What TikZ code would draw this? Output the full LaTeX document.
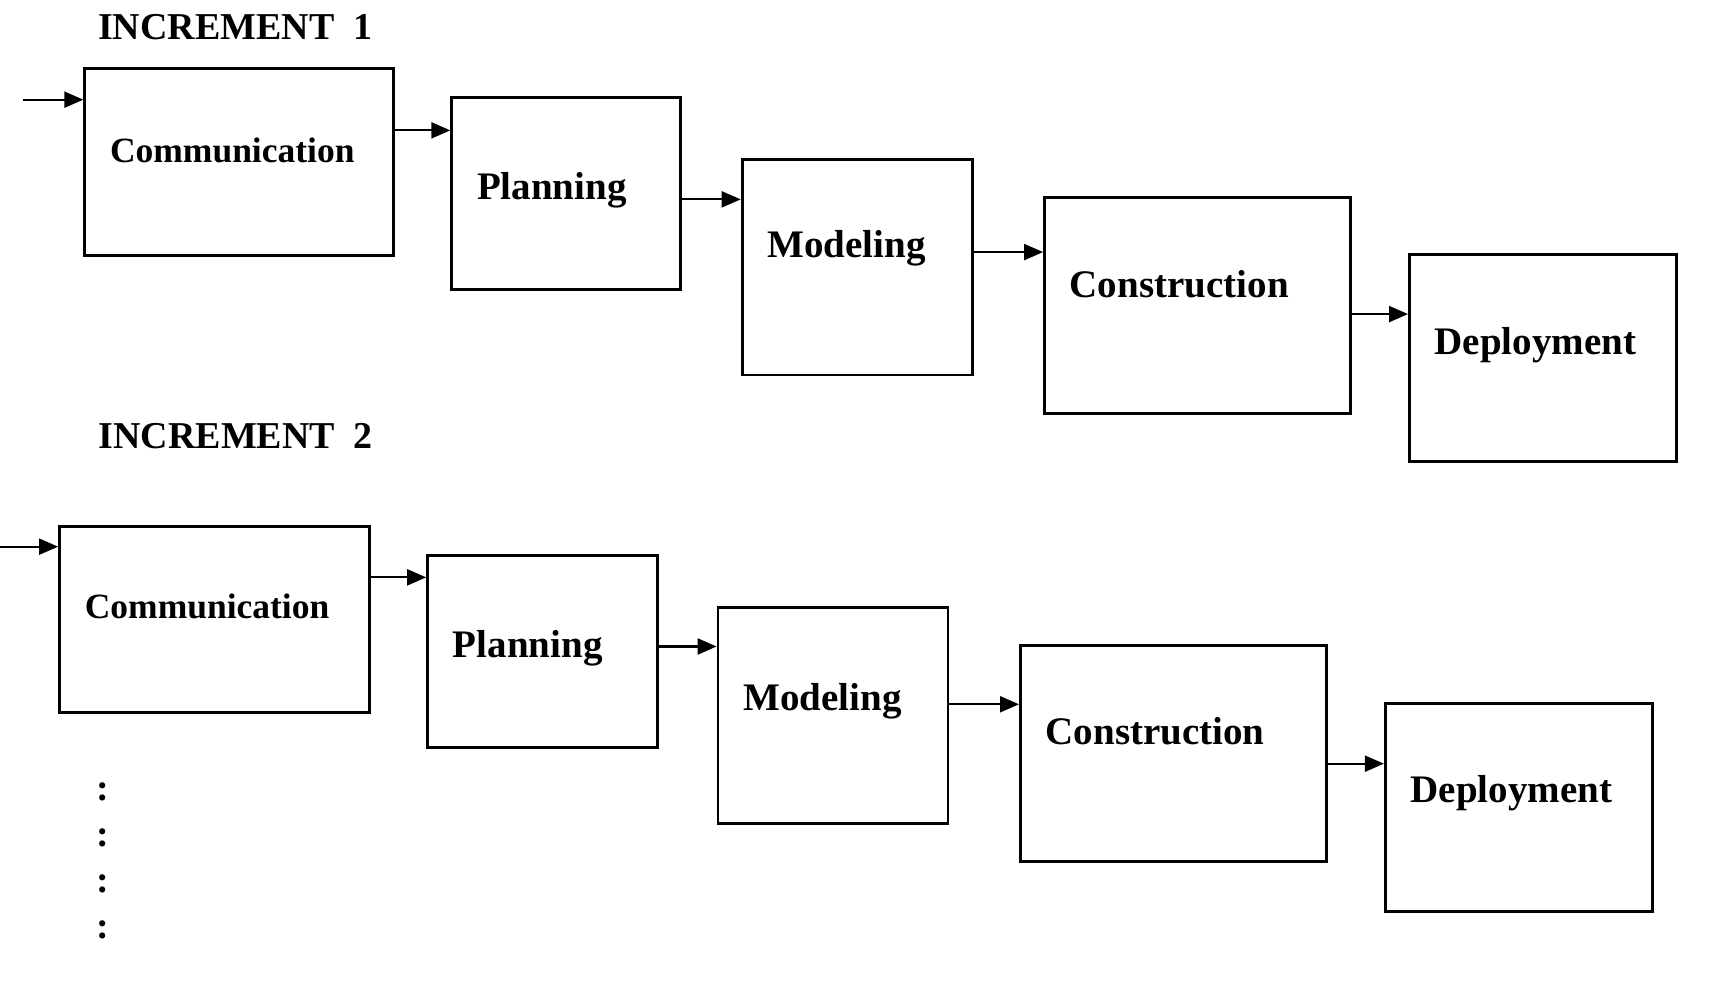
\documentclass[tikz,border=0pt]{standalone}
\usepackage{fontspec}
\setmainfont{Liberation Serif}
\usetikzlibrary{arrows.meta,calc}

\begin{document}
\begin{tikzpicture}[
  phase/.style={draw, line width=0.8pt, anchor=north west, inner sep=0pt},
  phasetext/.style={anchor=base west, inner sep=0pt, font=\fontsize{11.1}{13}\selectfont\bfseries},
  inctitle/.style={anchor=base west, inner sep=0pt, font=\fontsize{10.8}{13}\selectfont\bfseries},
  flow/.style={line width=0.6pt, -{Triangle[length=0.19cm,width=0.16cm]}}
]
\useasboundingbox (0,0) rectangle (17.18,10);

% increment 1
\node [inctitle] (inc1) at (0.975,9.60) {INCREMENT\ \ 1};

\node [phase, minimum width=3.09cm, minimum height=1.874cm] (com1) at (0.833,9.332) {};
\node [phase, minimum width=2.29cm, minimum height=1.918cm] (pl1) at (4.503,9.036) {};
\node [phase, minimum width=2.30cm, minimum height=2.158cm] (mo1) at (7.407,8.422) {};
\node [phase, minimum width=3.057cm, minimum height=2.159cm] (co1) at (10.431,8.039) {};
\node [phase, minimum width=2.673cm, minimum height=2.071cm] (de1) at (14.08,7.469) {};

\node [phasetext, font=\fontsize{10.1}{12}\selectfont\bfseries] (com1t) at ($(com1.north west)+(0.26,-0.96)$) {Communication};
\node [phasetext] (pl1t) at ($(pl1.north west)+(0.26,-1.03)$) {Planning};
\node [phasetext] (mo1t) at ($(mo1.north west)+(0.26,-1.0)$) {Modeling};
\node [phasetext] (co1t) at ($(co1.north west)+(0.26,-1.01)$) {Construction};
\node [phasetext] (de1t) at ($(de1.north west)+(0.26,-1.01)$) {Deployment};

% arrows of increment 1
\coordinate (in1) at (0.23,9.003);
\coordinate (a1) at ($(pl1.north west)+(0,-0.34)$);
\coordinate (b1) at ($(mo1.north west)+(0,-0.416)$);
\coordinate (c1) at ($(co1.north west)+(0,-0.56)$);
\coordinate (d1) at ($(de1.north west)+(0,-0.61)$);
\draw [flow] (in1) -- (com1.west |- in1);
\draw [flow] (com1.east |- a1) -- (a1);
\draw [flow] (pl1.east |- b1) -- (b1);
\draw [flow] (mo1.east |- c1) -- (c1);
\draw [flow] (co1.east |- d1) -- (d1);

% increment 2
\node [inctitle] (inc2) at (0.98,5.51) {INCREMENT\ \ 2};

\node [phase, minimum width=3.10cm, minimum height=1.863cm] (com2) at (0.581,4.752) {};
\node [phase, minimum width=2.30cm, minimum height=1.918cm] (pl2) at (4.262,4.456) {};
\node [phase, minimum width=2.30cm, minimum height=2.159cm] (mo2) at (7.166,3.941) {};
\node [phase, minimum width=3.057cm, minimum height=2.158cm] (co2) at (10.19,3.557) {};
\node [phase, minimum width=2.673cm, minimum height=2.082cm] (de2) at (13.839,2.977) {};

\node [phasetext, font=\fontsize{10.1}{12}\selectfont\bfseries] (com2t) at ($(com2.north west)+(0.26,-0.94)$) {Communication};
\node [phasetext] (pl2t) at ($(pl2.north west)+(0.26,-1.03)$) {Planning};
\node [phasetext] (mo2t) at ($(mo2.north west)+(0.26,-1.05)$) {Modeling};
\node [phasetext] (co2t) at ($(co2.north west)+(0.26,-1.0)$) {Construction};
\node [phasetext] (de2t) at ($(de2.north west)+(0.26,-1.0)$) {Deployment};

% arrows of increment 2
\coordinate (in2) at (0,4.533);
\coordinate (a2) at ($(pl2.north west)+(0,-0.23)$);
\coordinate (b2) at ($(mo2.north west)+(0,-0.406)$);
\coordinate (c2) at ($(co2.north west)+(0,-0.60)$);
\coordinate (d2) at ($(de2.north west)+(0,-0.614)$);
\draw [flow] (in2) -- (com2.west |- in2);
\draw [flow] (com2.east |- a2) -- (a2);
\draw [flow] (pl2.east |- b2) -- (b2);
\draw [flow] (mo2.east |- c2) -- (c2);
\draw [flow] (co2.east |- d2) -- (d2);

% more increments
\node [phasetext, anchor=base, font=\fontsize{10.8}{13}\selectfont\bfseries] (more1) at (1.03,1.99) {:};
\node [phasetext, anchor=base, font=\fontsize{10.8}{13}\selectfont\bfseries] (more2) at (1.03,1.53) {:};
\node [phasetext, anchor=base, font=\fontsize{10.8}{13}\selectfont\bfseries] (more3) at (1.03,1.07) {:};
\node [phasetext, anchor=base, font=\fontsize{10.8}{13}\selectfont\bfseries] (more4) at (1.03,0.61) {:};
\end{tikzpicture}
\end{document}
